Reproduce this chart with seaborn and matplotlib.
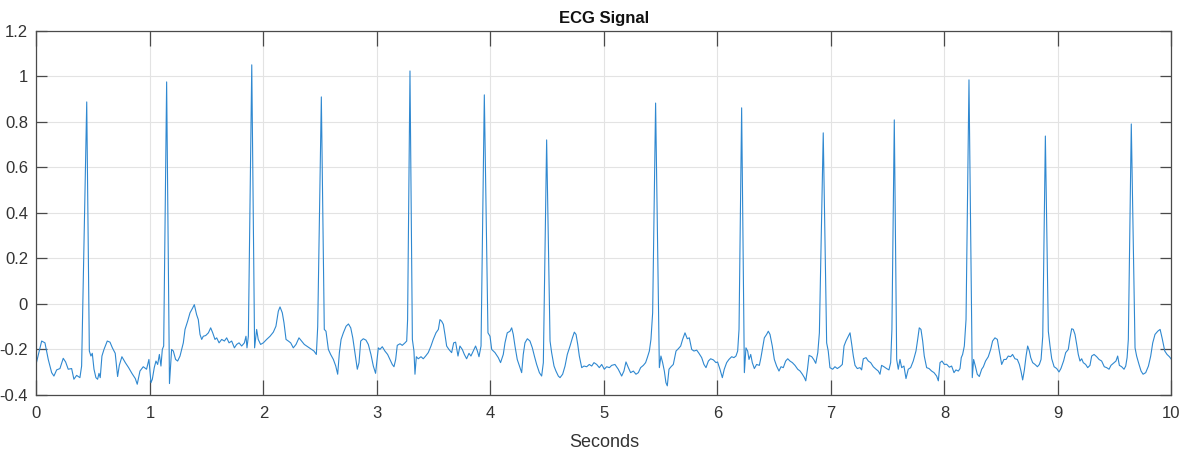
import matplotlib
matplotlib.use("Agg")
import matplotlib.pyplot as plt
import seaborn as sns
import pandas as pd
from matplotlib.ticker import FixedLocator, FuncFormatter

# ECG trace (time in seconds, amplitude)
time_s = [
    0.000, 0.046, 0.075, 0.104, 0.134, 0.154, 0.178, 0.207, 0.236, 0.257, 0.280, 0.310, 0.330, 0.354, 0.383, 0.398,
    0.443, 0.466, 0.480, 0.492, 0.507, 0.524, 0.539, 0.551, 0.562, 0.577, 0.595, 0.624, 0.648, 0.669, 0.694, 0.715,
    0.730, 0.753, 0.783, 0.812, 0.841, 0.871, 0.888, 0.912, 0.941, 0.970, 0.991, 1.009, 1.021, 1.038, 1.053, 1.068,
    1.083, 1.097, 1.109, 1.121, 1.147, 1.172, 1.191, 1.206, 1.226, 1.244, 1.265, 1.279, 1.294, 1.309, 1.332, 1.353,
    1.376, 1.391, 1.411, 1.426, 1.441, 1.456, 1.470, 1.491, 1.515, 1.535, 1.553, 1.573, 1.588, 1.609, 1.632, 1.656,
    1.676, 1.697, 1.720, 1.744, 1.764, 1.785, 1.808, 1.832, 1.846, 1.855, 1.867, 1.897, 1.922, 1.940, 1.954, 1.975,
    1.999, 2.028, 2.058, 2.087, 2.110, 2.131, 2.146, 2.166, 2.181, 2.199, 2.219, 2.240, 2.263, 2.287, 2.313, 2.336,
    2.360, 2.380, 2.404, 2.425, 2.445, 2.466, 2.478, 2.510, 2.536, 2.551, 2.572, 2.592, 2.616, 2.637, 2.654, 2.669,
    2.684, 2.704, 2.728, 2.749, 2.769, 2.787, 2.806, 2.827, 2.842, 2.857, 2.880, 2.903, 2.924, 2.947, 2.968, 2.988,
    3.000, 3.012, 3.026, 3.047, 3.070, 3.094, 3.115, 3.135, 3.150, 3.165, 3.179, 3.203, 3.223, 3.247, 3.262, 3.270,
    3.291, 3.312, 3.326, 3.335, 3.347, 3.364, 3.388, 3.408, 3.429, 3.452, 3.476, 3.496, 3.520, 3.541, 3.555, 3.570,
    3.585, 3.599, 3.614, 3.634, 3.658, 3.676, 3.693, 3.714, 3.731, 3.752, 3.770, 3.790, 3.811, 3.828, 3.849, 3.869,
    3.885, 3.899, 3.917, 3.946, 3.978, 3.996, 4.011, 4.040, 4.069, 4.089, 4.113, 4.128, 4.148, 4.172, 4.187, 4.201,
    4.216, 4.236, 4.260, 4.275, 4.289, 4.304, 4.325, 4.348, 4.369, 4.387, 4.407, 4.431, 4.451, 4.466, 4.495, 4.525,
    4.539, 4.560, 4.577, 4.598, 4.613, 4.636, 4.657, 4.677, 4.701, 4.722, 4.739, 4.754, 4.769, 4.783, 4.804, 4.824,
    4.848, 4.871, 4.892, 4.912, 4.936, 4.959, 4.980, 5.003, 5.024, 5.048, 5.068, 5.097, 5.126, 5.156, 5.176, 5.194,
    5.215, 5.235, 5.259, 5.282, 5.303, 5.323, 5.347, 5.367, 5.382, 5.400, 5.414, 5.429, 5.455, 5.488, 5.502, 5.517,
    5.532, 5.546, 5.558, 5.573, 5.591, 5.611, 5.635, 5.655, 5.676, 5.693, 5.714, 5.734, 5.752, 5.773, 5.793, 5.817,
    5.837, 5.861, 5.881, 5.899, 5.920, 5.940, 5.964, 5.987, 6.001, 6.022, 6.043, 6.060, 6.081, 6.101, 6.125, 6.145,
    6.163, 6.178, 6.190, 6.213, 6.237, 6.251, 6.266, 6.278, 6.293, 6.307, 6.325, 6.345, 6.369, 6.383, 6.398, 6.413,
    6.433, 6.448, 6.463, 6.483, 6.501, 6.521, 6.542, 6.560, 6.580, 6.601, 6.619, 6.639, 6.660, 6.683, 6.707, 6.728,
    6.748, 6.766, 6.778, 6.793, 6.807, 6.831, 6.848, 6.866, 6.884, 6.898, 6.932, 6.962, 6.976, 6.991, 7.015, 7.035,
    7.056, 7.079, 7.100, 7.115, 7.132, 7.153, 7.168, 7.183, 7.197, 7.212, 7.232, 7.256, 7.270, 7.285, 7.309, 7.329,
    7.350, 7.373, 7.397, 7.417, 7.432, 7.446, 7.467, 7.490, 7.511, 7.526, 7.537, 7.558, 7.579, 7.593, 7.608, 7.623,
    7.643, 7.661, 7.681, 7.702, 7.725, 7.749, 7.764, 7.778, 7.793, 7.808, 7.822, 7.843, 7.864, 7.887, 7.908, 7.931,
    7.946, 7.961, 7.978, 7.999, 8.019, 8.043, 8.063, 8.084, 8.101, 8.122, 8.137, 8.148, 8.160, 8.175, 8.190, 8.216,
    8.245, 8.257, 8.272, 8.289, 8.307, 8.328, 8.343, 8.362, 8.386, 8.407, 8.424, 8.445, 8.466, 8.483, 8.504, 8.524,
    8.543, 8.562, 8.583, 8.600, 8.621, 8.642, 8.660, 8.674, 8.689, 8.704, 8.719, 8.733, 8.748, 8.760, 8.777, 8.798,
    8.819, 8.836, 8.851, 8.866, 8.889, 8.915, 8.930, 8.945, 8.966, 8.989, 9.009, 9.026, 9.050, 9.068, 9.091, 9.106,
    9.121, 9.135, 9.150, 9.165, 9.179, 9.194, 9.209, 9.223, 9.244, 9.262, 9.282, 9.297, 9.318, 9.341, 9.362, 9.385,
    9.408, 9.429, 9.450, 9.467, 9.488, 9.511, 9.526, 9.541, 9.561, 9.582, 9.597, 9.609, 9.620, 9.646, 9.679, 9.693,
    9.714, 9.732, 9.750, 9.773, 9.797, 9.817, 9.835, 9.855, 9.879, 9.900, 9.917, 9.941, 9.961, 9.982, 10.000,
]
amplitude = [
    -0.258, -0.163, -0.171, -0.244, -0.302, -0.317, -0.290, -0.284, -0.239, -0.255, -0.287, -0.284, -0.331, -0.314, -0.324, -0.273,
    0.888, -0.207, -0.229, -0.217, -0.287, -0.324, -0.331, -0.305, -0.324, -0.229, -0.200, -0.163, -0.168, -0.193, -0.217, -0.319,
    -0.270, -0.232, -0.258, -0.280, -0.305, -0.328, -0.353, -0.295, -0.276, -0.287, -0.244, -0.346, -0.331, -0.280, -0.251, -0.266,
    -0.222, -0.273, -0.200, -0.185, 0.976, -0.350, -0.200, -0.207, -0.244, -0.251, -0.229, -0.200, -0.171, -0.112, -0.076, -0.039,
    -0.018, -0.003, -0.047, -0.069, -0.134, -0.156, -0.142, -0.139, -0.127, -0.105, -0.127, -0.156, -0.149, -0.171, -0.156, -0.163,
    -0.149, -0.171, -0.163, -0.193, -0.178, -0.171, -0.185, -0.171, -0.142, -0.193, -0.142, 1.051, -0.193, -0.112, -0.156, -0.178,
    -0.171, -0.156, -0.142, -0.124, -0.098, -0.032, -0.013, -0.039, -0.083, -0.156, -0.163, -0.171, -0.193, -0.178, -0.149, -0.163,
    -0.178, -0.185, -0.193, -0.200, -0.207, -0.222, -0.100, 0.910, -0.112, -0.120, -0.200, -0.222, -0.244, -0.273, -0.309, -0.214,
    -0.156, -0.127, -0.098, -0.088, -0.105, -0.149, -0.214, -0.287, -0.258, -0.163, -0.153, -0.159, -0.178, -0.222, -0.273, -0.305,
    -0.250, -0.193, -0.200, -0.188, -0.207, -0.222, -0.244, -0.266, -0.276, -0.244, -0.182, -0.175, -0.182, -0.171, -0.163, -0.069,
    1.024, -0.156, -0.207, -0.309, -0.232, -0.241, -0.232, -0.241, -0.229, -0.214, -0.185, -0.156, -0.127, -0.112, -0.069, -0.076,
    -0.090, -0.134, -0.185, -0.200, -0.214, -0.171, -0.168, -0.229, -0.185, -0.200, -0.222, -0.241, -0.217, -0.229, -0.207, -0.185,
    -0.207, -0.232, -0.185, 0.919, -0.127, -0.142, -0.200, -0.214, -0.236, -0.258, -0.222, -0.171, -0.127, -0.120, -0.105, -0.134,
    -0.185, -0.244, -0.280, -0.302, -0.222, -0.171, -0.153, -0.163, -0.193, -0.229, -0.266, -0.302, -0.317, -0.258, 0.721, -0.163,
    -0.214, -0.273, -0.295, -0.317, -0.324, -0.309, -0.273, -0.222, -0.185, -0.149, -0.124, -0.134, -0.178, -0.229, -0.280, -0.273,
    -0.276, -0.266, -0.273, -0.258, -0.266, -0.280, -0.266, -0.287, -0.276, -0.280, -0.270, -0.266, -0.287, -0.317, -0.295, -0.255,
    -0.280, -0.302, -0.295, -0.309, -0.302, -0.280, -0.270, -0.258, -0.236, -0.207, -0.156, -0.039, 0.883, -0.280, -0.229, -0.258,
    -0.295, -0.346, -0.360, -0.287, -0.276, -0.266, -0.207, -0.197, -0.185, -0.156, -0.127, -0.153, -0.149, -0.200, -0.207, -0.203,
    -0.217, -0.236, -0.266, -0.280, -0.251, -0.241, -0.246, -0.258, -0.255, -0.287, -0.324, -0.287, -0.258, -0.244, -0.232, -0.236,
    -0.229, -0.207, -0.112, 0.862, -0.302, -0.193, -0.207, -0.244, -0.222, -0.258, -0.284, -0.266, -0.270, -0.236, -0.193, -0.149,
    -0.134, -0.120, -0.134, -0.185, -0.244, -0.273, -0.295, -0.276, -0.280, -0.251, -0.241, -0.251, -0.258, -0.270, -0.287, -0.295,
    -0.309, -0.324, -0.338, -0.287, -0.226, -0.232, -0.244, -0.261, -0.214, -0.127, 0.752, -0.171, -0.207, -0.280, -0.287, -0.276,
    -0.284, -0.276, -0.266, -0.185, -0.163, -0.142, -0.127, -0.178, -0.229, -0.270, -0.284, -0.280, -0.290, -0.241, -0.236, -0.251,
    -0.258, -0.276, -0.287, -0.295, -0.309, -0.270, -0.276, -0.284, -0.290, -0.258, -0.112, 0.809, -0.244, -0.287, -0.244, -0.280,
    -0.273, -0.328, -0.287, -0.280, -0.251, -0.207, -0.156, -0.105, -0.112, -0.163, -0.229, -0.280, -0.284, -0.295, -0.302, -0.317,
    -0.338, -0.258, -0.251, -0.266, -0.265, -0.278, -0.273, -0.302, -0.290, -0.295, -0.284, -0.236, -0.222, -0.185, -0.069, 0.985,
    -0.324, -0.244, -0.273, -0.309, -0.319, -0.287, -0.276, -0.251, -0.232, -0.200, -0.163, -0.149, -0.156, -0.207, -0.266, -0.244,
    -0.244, -0.229, -0.232, -0.222, -0.241, -0.244, -0.266, -0.295, -0.334, -0.290, -0.229, -0.185, -0.207, -0.236, -0.258, -0.266,
    -0.276, -0.266, -0.244, -0.142, 0.738, -0.120, -0.185, -0.241, -0.276, -0.284, -0.299, -0.284, -0.250, -0.214, -0.200, -0.149,
    -0.109, -0.112, -0.134, -0.178, -0.222, -0.251, -0.241, -0.258, -0.266, -0.280, -0.270, -0.229, -0.222, -0.232, -0.244, -0.251,
    -0.276, -0.280, -0.287, -0.270, -0.261, -0.251, -0.229, -0.270, -0.276, -0.287, -0.273, -0.236, -0.156, 0.791, -0.193, -0.229,
    -0.266, -0.295, -0.309, -0.302, -0.273, -0.229, -0.171, -0.134, -0.120, -0.112, -0.149, -0.207, -0.222, -0.232, -0.244,
]

x_ticks = [0, 1, 2, 3, 4, 5, 6, 7, 8, 9, 10]
y_ticks = [-0.4, -0.2, 0, 0.2, 0.4, 0.6, 0.8, 1.0, 1.2]
title_text = "ECG Signal"
x_label = "Seconds"

sns.set_style("white")
plt.rcParams["font.family"] = ["Liberation Sans Narrow", "Liberation Sans", "DejaVu Sans"]

df = pd.DataFrame({"t": time_s, "v": amplitude})

fig = plt.figure(figsize=(11.91, 4.55), dpi=100)
ax = fig.add_axes([0.0306, 0.132, 0.9530, 0.800])

sns.lineplot(data=df, x="t", y="v", ax=ax, color="#2f88d0", linewidth=0.8,
             estimator=None, sort=False)

ax.set_xlim(0, 10)
ax.set_ylim(-0.4, 1.2)
ax.xaxis.set_major_locator(FixedLocator(x_ticks))
ax.yaxis.set_major_locator(FixedLocator(y_ticks))
ax.xaxis.set_major_formatter(FuncFormatter(lambda v, p: f"{v:g}"))
ax.yaxis.set_major_formatter(FuncFormatter(lambda v, p: f"{v:g}"))

ax.grid(True, color="#e3e3e3", linewidth=0.8)
ax.set_axisbelow(True)
for s in ax.spines.values():
    s.set_visible(True)
    s.set_color("#4a4a4a")
    s.set_linewidth(0.9)

ax.tick_params(axis="x", direction="in", length=11, width=0.9, color="#4a4a4a",
               top=True, bottom=True, labelsize=12, labelcolor="#333333", pad=8)
ax.tick_params(axis="y", direction="in", length=8, width=0.9, color="#4a4a4a",
               left=True, right=True, labelsize=12, labelcolor="#333333", pad=6)

ax.set_title(title_text, fontsize=12, fontweight="bold", color="#111111", pad=6)
ax.set_xlabel(x_label, fontsize=13, color="#333333", labelpad=9)
ax.set_ylabel("")

fig.savefig("out.png", dpi=100, facecolor="white")
